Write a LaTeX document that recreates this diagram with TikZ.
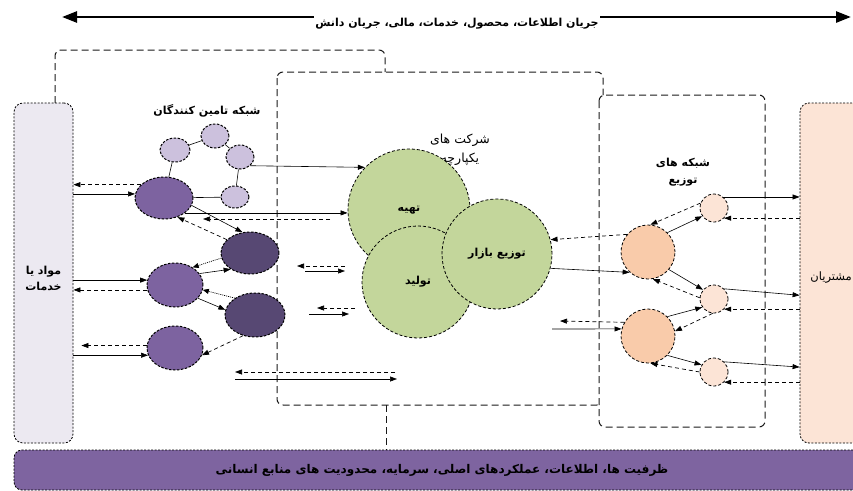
\documentclass[tikz,border=0pt]{standalone}
\usepackage{fontspec}
\newfontfamily\fa[Script=Arabic]{DejaVu Sans}
\TeXXeTstate=1
\usetikzlibrary{arrows.meta,shapes.geometric}
\newcommand{\myR}[1]{\beginR #1\endR}
\definecolor{lbox}{HTML}{ECE9F1}
\definecolor{pchL}{HTML}{FCE4D6}
\definecolor{pchD}{HTML}{F9CBAA}
\definecolor{barc}{HTML}{7E64A0}
\definecolor{supL}{HTML}{CCC1DD}
\definecolor{supM}{HTML}{7D63A0}
\definecolor{supD}{HTML}{574873}
\definecolor{grn}{HTML}{C3D69B}
\begin{document}
\begin{tikzpicture}[x=1pt,y=-1pt,
  frame/.style={draw=black!90, line width=1pt, dash pattern=on 7pt off 4pt, rounded corners=6pt},
  fbox/.style={draw=black, line width=0.8pt, dash pattern=on 2pt off 1.5pt, rounded corners=9pt, inner sep=0pt},
  sup/.style={ellipse, draw=black, line width=1pt, dash pattern=on 2.5pt off 1.5pt, inner sep=0pt},
  lt/.style={sup, fill=supL},
  md/.style={sup, fill=supM},
  dk/.style={sup, fill=supD},
  gc/.style={circle, draw=black, line width=0.8pt, dash pattern=on 3pt off 2pt, fill=grn, inner sep=0pt, font=\fa\bfseries\fontsize{11}{13}\selectfont},
  bigp/.style={circle, draw=black, line width=0.8pt, dash pattern=on 3pt off 2pt, fill=pchD, inner sep=0pt, minimum size=54pt},
  smp/.style={circle, draw=black, line width=0.8pt, dash pattern=on 3pt off 2pt, fill=pchL, inner sep=0pt, minimum size=28pt},
  sarr/.style={-{Triangle[length=7pt,width=5pt]}, line width=0.6pt},
  darr/.style={-{Triangle[length=7pt,width=5pt]}, line width=0.7pt, dash pattern=on 4pt off 3pt},
  tarr/.style={-{Triangle[length=6pt,width=5pt]}, line width=0.7pt, dash pattern=on 1pt off 1pt},
  link/.style={line width=0.6pt},
  lbl/.style={font=\fa\bfseries\fontsize{11}{14}\selectfont, align=center, inner sep=0pt},
]
\useasboundingbox (0,0) rectangle (853,490);

% top flow arrow
\coordinate (tl) at (62,17);
\coordinate (tr) at (851,17);
\draw[line width=2.6pt, {Triangle[length=15pt,width=11pt]}-{Triangle[length=15pt,width=11pt]}] (tl) -- (tr);
\node[lbl, fill=white, inner xsep=1pt, inner ysep=3pt] (flow) at (457,23.5) {\myR{جریان اطلاعات، محصول، خدمات، مالی، جریان دانش}};

% frames
\draw[frame] (55,103) -- (55,50) -- (385,50) -- (385,72);
\draw[frame] (277,72) rectangle (603,405);
\draw[frame, fill=white] (599,95) rectangle (765,427);
\draw[frame] (386,405) -- (386,450);

% side boxes and bar
\node[fbox, fill=lbox, minimum width=59pt, minimum height=340pt] (mat) at (43.5,273) {};
\node[lbl, font=\fa\bfseries\fontsize{11}{16}\selectfont] (matt) at (43.5,278) {\myR{مواد یا}\\\myR{خدمات}};
\node[fbox, fill=pchL, minimum width=75pt, minimum height=340pt] (cust) at (837.5,273) {};
\node[font=\fa\fontsize{11.5}{13}\selectfont, anchor=east, inner sep=0pt] (custt) at (852,278) {\myR{مشتریان}};
\node[fbox, fill=barc, minimum width=861pt, minimum height=40pt, rounded corners=8pt] (bar) at (444.5,470) {};
\node[lbl, font=\fa\bfseries\fontsize{12}{14}\selectfont] (bart) at (442,470) {\myR{ظرفیت ها، اطلاعات، عملکردهای اصلی، سرمایه، محدودیت های منابع انسانی}};

% labels
\node[lbl] (suplbl) at (207,111) {\myR{شبکه تامین کنندگان}};
\node[lbl, font=\fa\fontsize{12.5}{19}\selectfont] (complbl) at (460,150) {\myR{شرکت های}\\\myR{یکپارچه}};
\node[lbl, font=\fa\bfseries\fontsize{11}{17}\selectfont] (distlbl) at (683,172) {\myR{شبکه های}\\\myR{توزیع}};

% company circles
\node[gc, minimum size=122pt] (T) at (409,210) {\myR{تهیه}};
\node[gc, minimum size=112pt] (O) at (418,282) {\myR{تولید}};
\node[gc, minimum size=110pt] (M) at (497,254) {\myR{توزیع بازار}};

% supplier nodes
\node[lt, minimum width=30pt, minimum height=24pt] (A) at (175,150) {};
\node[lt, minimum width=28pt, minimum height=24pt] (B) at (215,136) {};
\node[lt, minimum width=28pt, minimum height=24pt] (C) at (240,157) {};
\node[lt, minimum width=28pt, minimum height=22pt] (D) at (235,197) {};
\node[md, minimum width=58pt, minimum height=42pt] (E) at (164,198) {};
\node[dk, minimum width=58pt, minimum height=42pt] (F) at (250,253) {};
\node[md, minimum width=56pt, minimum height=44pt] (G) at (175,285) {};
\node[dk, minimum width=60pt, minimum height=44pt] (H) at (255,315) {};
\node[md, minimum width=56pt, minimum height=44pt] (I) at (175,348) {};

% supplier links
\draw[link] (A) -- (B);
\draw[link] (B) -- (C);
\draw[link] (C) -- (D);
\draw[link] (D) -- (E);
\draw[link] (A) -- (E);
\draw[sarr] (C.-40) -- (T.136);
\draw[sarr] (E.-35) -- (T.west |- E.-35);
\coordinate (r1) at (330,219);
\coordinate (r2) at (203,219);
\draw[darr] (r1) -- (r2);
\draw[darr] (E.150) -- (mat.east |- E.150);
\draw[sarr] (mat.east |- E.172) -- (E.172);
\draw[sarr] (E.-15) -- (F.110);
\draw[darr] (F.150) -- (E.-55);
\draw[sarr] (G.25) -- (F.220);
\draw[tarr] (F.190) -- (G.45);
\draw[sarr] (G.-30) -- (H.170);
\draw[tarr] (H.140) -- (G.-10);
\draw[darr] (H.-120) -- (I.-15);
\draw[sarr] (mat.east |- G.170) -- (G.170);
\draw[darr] (G.190) -- (mat.east |- G.190);
\draw[darr, shorten >=8pt] (I.175) -- (mat.east |- I.175);
\draw[sarr] (mat.east |- I.195) -- (I.195);

% company free arrows
\coordinate (a1) at (345,266); \coordinate (a2) at (297,266);
\coordinate (a3) at (305,271); \coordinate (a4) at (345,271);
\draw[darr] (a1) -- (a2);
\draw[sarr] (a3) -- (a4);
\coordinate (b1) at (355,308); \coordinate (b2) at (317,308);
\coordinate (b3) at (309,314); \coordinate (b4) at (349,314);
\draw[darr] (b1) -- (b2);
\draw[sarr] (b3) -- (b4);
\coordinate (c1) at (395,372); \coordinate (c2) at (235,372);
\coordinate (c3) at (235,379); \coordinate (c4) at (397,379);
\draw[darr] (c1) -- (c2);
\draw[sarr] (c3) -- (c4);

% distribution nodes
\node[bigp] (P1) at (648,252) {};
\node[bigp] (P2) at (648,336) {};
\node[smp] (S1) at (714,208) {};
\node[smp] (S2) at (714,299) {};
\node[smp] (S3) at (714,372) {};

% distribution links
\draw[sarr] (P1.45) -- (S1.215);
\draw[darr] (S1.160) -- (P1.85);
\draw[sarr] (S1.50) -- (cust.west |- S1.50);
\draw[darr] (cust.west |- S1.-45) -- (S1.-45);
\draw[darr] (P1.140) -- (M.15);
\draw[sarr] (M.-15) -- (P1.228);
\draw[sarr] (P1.-40) -- (S2.140);
\draw[darr] (S2.175) -- (P1.-80);
\draw[sarr] (S2.45) -- (cust.west |- S2.15);
\draw[darr] (cust.west |- S2.-45) -- (S2.-45);
\draw[sarr] (P2.45) -- (S2.215);
\draw[darr] (S2.-95) -- (P2.10);
\draw[sarr] (P2.-45) -- (S3.150);
\draw[darr] (S3.180) -- (P2.-85);
\draw[sarr] (S3.45) -- (cust.west |- S3.20);
\draw[darr] (cust.west |- S3.-45) -- (S3.-45);
\coordinate (p2l) at (560,321);
\coordinate (p2s) at (552,329);
\draw[darr] (P2.150) -- (p2l);
\draw[sarr] (p2s) -- (P2.165);
\end{tikzpicture}
\end{document}
